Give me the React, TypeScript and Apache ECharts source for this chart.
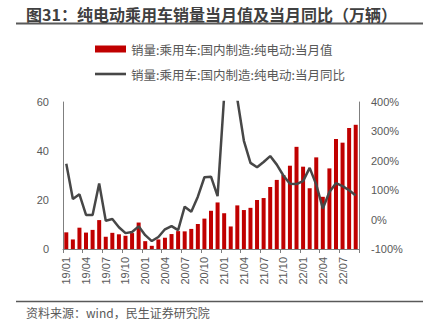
import React, { useEffect, useRef } from 'react';
import * as echarts from 'echarts';

const categories = [
  '19/01', '19/02', '19/03', '19/04', '19/05', '19/06', '19/07', '19/08', '19/09', '19/10', '19/11', '19/12',
  '20/01', '20/02', '20/03', '20/04', '20/05', '20/06', '20/07', '20/08', '20/09', '20/10', '20/11', '20/12',
  '21/01', '21/02', '21/03', '21/04', '21/05', '21/06', '21/07', '21/08', '21/09', '21/10', '21/11', '21/12',
  '22/01', '22/02', '22/03', '22/04', '22/05', '22/06', '22/07', '22/08', '22/09',
];

const salesValues = [
  6.8, 3.9, 8.7, 6.7, 7.8, 11.8, 5.0, 6.6, 6.0, 5.4, 6.5, 10.8,
  3.2, 1.3, 3.9, 4.6, 6.1, 7.3, 7.2, 8.2, 10.2, 12.4, 15.6, 19.0,
  14.6, 9.2, 17.8, 15.9, 16.8, 20.0, 20.8, 25.3, 28.2, 30.2, 34.0, 41.7,
  33.6, 24.8, 37.4, 21.3, 32.9, 44.9, 43.4, 49.4, 50.7,
];

const yoyValues = [
  190, 70, 86, 16, 16, 123, -4, 2, -26, -46, -42, -23,
  -53, -73, -59, -33, -22, -36, 44, 27, 78, 144, 146, 80,
  420, 650, 410, 268, 193, 178, 196, 216, 187, 150, 122, 121,
  131, 176, 119, 38, 94, 124, 114, 100, 82,
];

const leftAxis = { min: 0, max: 60, interval: 20 };
const rightAxis = { min: -100, max: 400, interval: 100 };

const titleText = '图31：纯电动乘用车销量当月值及当月同比（万辆）';
const sourceText = '资料来源：wind，民生证券研究院';
const barName = '销量:乘用车:国内制造:纯电动:当月值';
const lineName = '销量:乘用车:国内制造:纯电动:当月同比';

const CJK = '"Noto Sans CJK SC", "Noto Sans", sans-serif';
const LATIN = '"Liberation Sans", Arial, sans-serif';

export default function App() {
  const ref = useRef<HTMLDivElement>(null);
  useEffect(() => {
    if (!ref.current) return;
    const chart = echarts.init(ref.current, null, { renderer: 'svg' });
    chart.setOption({
      animation: false,
      title: [
        {
          text: titleText,
          left: 26,
          top: 6,
          padding: 0,
          textStyle: { fontSize: 16, fontWeight: 'bold', color: '#404040', fontFamily: CJK },
        },
        {
          text: sourceText,
          left: 26,
          top: 306,
          padding: 0,
          textStyle: { fontSize: 12, fontWeight: 'normal', color: '#595959', fontFamily: CJK },
        },
      ],
      graphic: [
        { type: 'line', shape: { x1: 16, y1: 23.5, x2: 423, y2: 23.5 }, style: { stroke: '#595959', lineWidth: 2 } },
        { type: 'line', shape: { x1: 16, y1: 301.5, x2: 423, y2: 301.5 }, style: { stroke: '#595959', lineWidth: 1.5 } },
      ],
      legend: {
        orient: 'vertical',
        left: 95,
        top: 42,
        padding: 0,
        itemWidth: 31,
        itemHeight: 7,
        itemGap: 11,
        textStyle: { fontSize: 12.5, color: '#595959', lineHeight: 14, fontFamily: CJK },
        data: [
          { name: barName, icon: 'rect' },
          { name: lineName, icon: 'path://M0 0H31V2.6H0Z', itemStyle: { color: '#474747', borderWidth: 0 } },
        ],
      },
      grid: { left: 63, right: 64, top: 102, bottom: 80 },
      xAxis: {
        type: 'category',
        data: categories,
        boundaryGap: true,
        axisLine: { lineStyle: { color: '#7f7f7f', width: 1 } },
        axisTick: { show: true, interval: 2, length: 4, lineStyle: { color: '#7f7f7f' } },
        axisLabel: { interval: 2, rotate: 90, margin: 8, fontSize: 11, color: '#595959', fontFamily: LATIN },
        splitLine: { show: false },
      },
      yAxis: [
        {
          type: 'value',
          position: 'left',
          ...leftAxis,
          axisLine: { show: true, lineStyle: { color: '#7f7f7f' } },
          axisTick: { show: false },
          splitLine: { show: false },
          axisLabel: { margin: 14, fontSize: 11, color: '#595959', fontFamily: LATIN },
        },
        {
          type: 'value',
          position: 'right',
          ...rightAxis,
          axisLine: { show: true, lineStyle: { color: '#7f7f7f' } },
          axisTick: { show: false },
          splitLine: { show: false },
          axisLabel: { margin: 12, fontSize: 11, color: '#595959', fontFamily: LATIN, formatter: '{value}%' },
        },
      ],
      series: [
        {
          name: barName,
          type: 'bar',
          yAxisIndex: 0,
          data: salesValues,
          barWidth: 4,
          itemStyle: { color: '#C00000' },
        },
        {
          name: lineName,
          type: 'line',
          yAxisIndex: 1,
          data: yoyValues,
          symbol: 'none',
          clip: true,
          itemStyle: { color: '#474747' },
          lineStyle: { color: '#474747', width: 2.5 },
        },
      ],
    });
    return () => chart.dispose();
  }, []);
  return <div ref={ref} style={{ position: 'absolute', left: 0, top: 0, width: 423, height: 329 }} />;
}
